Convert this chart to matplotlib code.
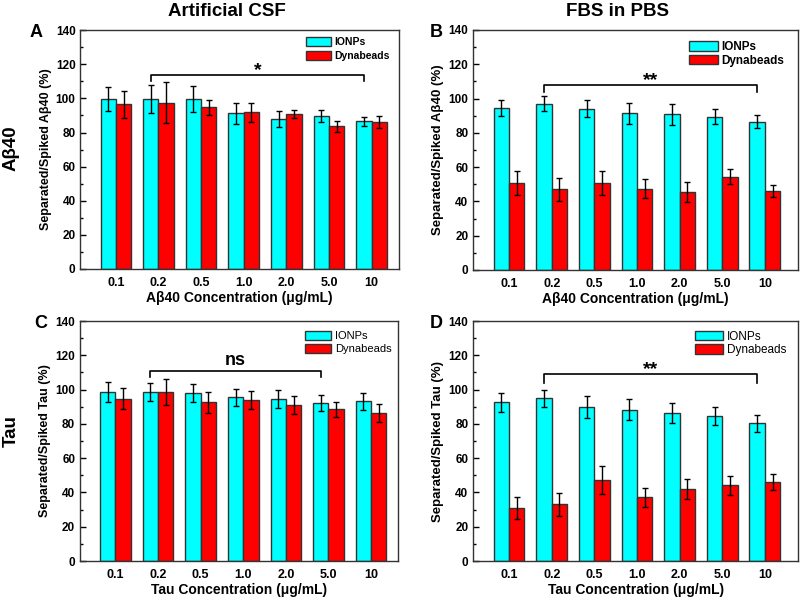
import numpy as np
import matplotlib
matplotlib.use("Agg")
import matplotlib.pyplot as plt
from matplotlib.ticker import MultipleLocator

plt.rcParams['font.family'] = ['Liberation Sans', 'DejaVu Sans']

# x categories
conc_labels = ['0.1', '0.2', '0.5', '1.0', '2.0', '5.0', '10']

# panel A: Abeta40 in artificial CSF
a_ionps = [99.4, 99.6, 99.8, 91.2, 87.8, 89.6, 86.5]
a_ionps_err = [7.0, 8.4, 7.5, 6.0, 4.7, 3.5, 2.5]
a_dyna = [96.5, 97.6, 94.7, 92.0, 91.0, 83.7, 86.0]
a_dyna_err = [8.0, 12.0, 4.3, 5.6, 2.3, 3.3, 3.6]

# panel B: Abeta40 in FBS/PBS
b_ionps = [94.7, 97.0, 94.0, 91.4, 90.8, 89.5, 86.5]
b_ionps_err = [4.7, 4.4, 5.0, 6.0, 6.0, 4.3, 3.7]
b_dyna = [51.0, 47.0, 51.0, 47.4, 45.6, 54.4, 46.2]
b_dyna_err = [7.0, 6.6, 7.0, 5.4, 6.0, 4.4, 3.5]

# panel C: Tau in artificial CSF
c_ionps = [98.6, 98.6, 98.0, 95.5, 94.5, 92.2, 93.1]
c_ionps_err = [6.0, 5.4, 5.0, 5.0, 5.0, 4.5, 5.0]
c_dyna = [94.7, 98.6, 92.5, 93.7, 91.2, 88.4, 86.3]
c_dyna_err = [6.0, 7.4, 6.3, 5.3, 5.3, 4.6, 5.5]

# panel D: Tau in FBS/PBS
d_ionps = [92.6, 94.9, 90.0, 88.3, 86.4, 84.6, 80.3]
d_ionps_err = [5.6, 5.0, 6.3, 6.0, 5.8, 5.3, 4.9]
d_dyna = [31.0, 33.1, 47.2, 37.2, 42.1, 44.2, 46.2]
d_dyna_err = [6.3, 6.7, 8.2, 5.5, 5.9, 5.5, 4.5]

# significance brackets: (first group, last group, height, drop, label)
a_sig = (1, 6, 114, 4, '*')
b_sig = (1, 6, 108, 4, '**')
c_sig = (1, 5, 111, 3.5, 'ns')
d_sig = (1, 6, 109, 5, '**')

CYAN = '#00FFFF'
RED = '#FF0000'
W = 0.36


def draw_panel(ax, ionps, ionps_err, dyna, dyna_err, sig, letter, ylabel,
               xlabel, xlim, ylab_size, leg_size, leg_bold, leg_anchor,
               leg_space, letter_x):
    x = np.arange(len(conc_labels))
    ekw = dict(elinewidth=1.0, capthick=1.0, ecolor='black')
    ax.bar(x - W / 2, ionps, W, yerr=ionps_err, capsize=2.5, color=CYAN,
           edgecolor='#333333', linewidth=1.0, error_kw=ekw, label='IONPs')
    ax.bar(x + W / 2, dyna, W, yerr=dyna_err, capsize=2.5, color=RED,
           edgecolor='#333333', linewidth=1.0, error_kw=ekw, label='Dynabeads')

    ax.set_xlim(*xlim)
    ax.set_ylim(0, 140)
    ax.yaxis.set_major_locator(MultipleLocator(20))
    ax.yaxis.set_minor_locator(MultipleLocator(10))
    ax.set_xticks(x)
    ax.set_xticklabels(conc_labels, fontsize=9, fontweight='bold')
    for t in ax.get_yticklabels():
        t.set_fontsize(8.5)
        t.set_fontweight('bold')
    ax.tick_params(axis='x', length=0, pad=6)
    ax.tick_params(axis='y', which='major', direction='in', length=4, width=1)
    ax.tick_params(axis='y', which='minor', direction='in', length=2.5, width=1)
    for s in ax.spines.values():
        s.set_linewidth(1.0)
        s.set_color('#333333')

    ax.set_ylabel(ylabel, fontsize=ylab_size, fontweight='bold', labelpad=3)
    ax.set_xlabel(xlabel, fontsize=10, fontweight='bold', labelpad=1.5)

    leg = ax.legend(loc='upper right', bbox_to_anchor=leg_anchor,
                    frameon=False, fontsize=leg_size, handlelength=2.4,
                    handleheight=0.9, handletextpad=0.3,
                    labelspacing=leg_space, borderaxespad=0.0, borderpad=0.0)
    if leg_bold:
        for t in leg.get_texts():
            t.set_fontweight('bold')

    g0, g1, h, drop, lab = sig
    x0 = g0 - W / 2
    x1 = g1 - W / 2
    ax.plot([x0, x0, x1, x1], [h - drop, h, h, h - drop], color='black',
            linewidth=1.2)
    if lab == 'ns':
        ax.text((x0 + x1) / 2, h + 0.8, lab, ha='center', va='bottom',
                fontsize=13, fontweight='bold')
    else:
        ax.text((x0 + x1) / 2, h - 2.5, lab, ha='center', va='bottom',
                fontsize=14, fontweight='bold')

    ax.text(letter_x, 0.99, letter, transform=ax.transAxes, ha='right',
            va='center', fontsize=13, fontweight='bold')


fig = plt.figure(figsize=(8, 6), dpi=100)

ax_a = fig.add_axes([0.1006, 0.5517, 0.398, 0.398])
ax_b = fig.add_axes([0.5916, 0.55, 0.406, 0.4])
ax_c = fig.add_axes([0.1, 0.065, 0.398, 0.4])
ax_d = fig.add_axes([0.5916, 0.065, 0.406, 0.4])

draw_panel(ax_a, a_ionps, a_ionps_err, a_dyna, a_dyna_err, a_sig, 'A',
           'Separated/Spiked Aβ40 (%)', 'Aβ40 Concentration (μg/mL)',
           (-0.83, 6.64), 9, 7.5, True, (0.972, 0.971), 0.4, -0.118)
draw_panel(ax_b, b_ionps, b_ionps_err, b_dyna, b_dyna_err, b_sig, 'B',
           'Separated/Spiked Aβ40 (%)', 'Aβ40 Concentration (μg/mL)',
           (-0.84, 6.78), 9.5, 8.5, True, (0.957, 0.955), 0.15, -0.093)
draw_panel(ax_c, c_ionps, c_ionps_err, c_dyna, c_dyna_err, c_sig, 'C',
           'Separated/Spiked Tau (%)', 'Tau Concentration (μg/mL)',
           (-0.83, 6.64), 9, 8, False, (0.978, 0.96), 0.25, -0.104)
draw_panel(ax_d, d_ionps, d_ionps_err, d_dyna, d_dyna_err, d_sig, 'D',
           'Separated/Spiked Tau (%)', 'Tau Concentration (μg/mL)',
           (-0.84, 6.78), 9.5, 8.5, False, (0.963, 0.96), 0.15, -0.093)

# column and row headers
fig.text(227 / 800, 1 - 11 / 600, 'Artificial CSF', ha='center', va='center',
         fontsize=13.5, fontweight='bold')
fig.text(618 / 800, 1 - 11 / 600, 'FBS in PBS', ha='center', va='center',
         fontsize=13.5, fontweight='bold')
fig.text(11 / 800, 1 - 148 / 600, 'Aβ40', ha='center', va='center',
         rotation=90, fontsize=13.5, fontweight='bold')
fig.text(11 / 800, 1 - 431 / 600, 'Tau', ha='center', va='center',
         rotation=90, fontsize=13.5, fontweight='bold')

fig.savefig('out.png', dpi=100)
